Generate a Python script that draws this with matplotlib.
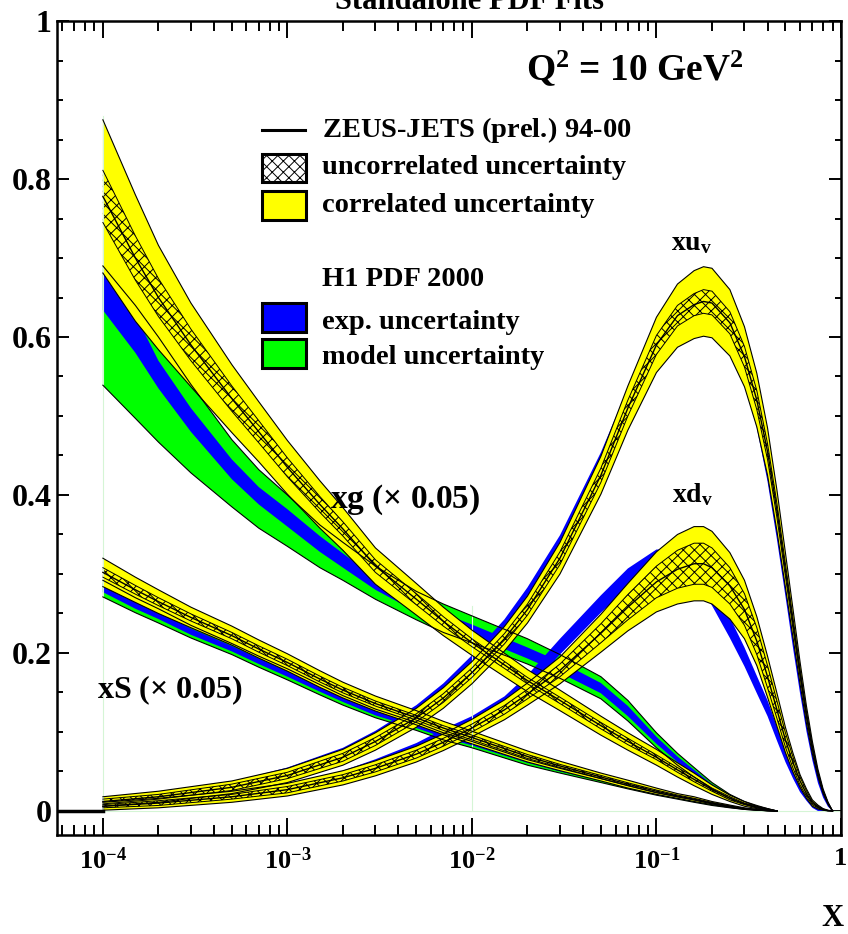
## Standalone PDF fits: ZEUS-JETS vs H1 PDF 2000 at Q2 = 10 GeV2
import matplotlib
matplotlib.use('Agg')
import matplotlib.pyplot as plt
from matplotlib.patches import Rectangle
from matplotlib.lines import Line2D
from matplotlib.ticker import FixedLocator, LogLocator, MultipleLocator

plt.rcParams['font.family'] = ['Liberation Serif', 'DejaVu Serif']
plt.rcParams['font.weight'] = 'bold'
plt.rcParams['mathtext.fontset'] = 'custom'
plt.rcParams['mathtext.rm'] = 'Liberation Serif'
plt.rcParams['mathtext.bf'] = 'Liberation Serif:bold'
plt.rcParams['mathtext.it'] = 'Liberation Serif:italic'
plt.rcParams['hatch.linewidth'] = 0.7

YELLOW = '#ffff00'
BLUE = '#0000ff'
GREEN = '#00ff00'

# x grids
x_sea = [1e-4, 1.5e-4, 2e-4, 3e-4, 5e-4, 7e-4, 1e-3, 1.5e-3, 2e-3, 3e-3, 5e-3, 7e-3, 1e-2,
         2e-2, 3e-2, 5e-2, 0.07, 0.1, 0.13, 0.16, 0.2, 0.25, 0.3, 0.35, 0.4, 0.45]
x_val = [1e-4, 2e-4, 5e-4, 1e-3, 2e-3, 3e-3, 5e-3, 7e-3, 1e-2, 1.5e-2, 2e-2, 3e-2, 5e-2,
         0.07, 0.1, 0.13, 0.16, 0.18, 0.2, 0.25, 0.3, 0.35, 0.4, 0.45, 0.5, 0.55, 0.6,
         0.65, 0.7, 0.75, 0.8, 0.85, 0.9]

# xg (x 0.05) -- ZEUS-JETS: central value, correlated and uncorrelated half widths
zeus_g = [0.778, 0.70, 0.65, 0.59, 0.522, 0.48, 0.435, 0.388, 0.357, 0.31, 0.268, 0.24, 0.213,
          0.165, 0.14, 0.108, 0.088, 0.068, 0.052, 0.04, 0.027, 0.016, 0.009, 0.005, 0.002, 0.0]
zeus_g_cor = [0.097, 0.08, 0.066, 0.053, 0.043, 0.038, 0.034, 0.03, 0.027, 0.023, 0.02, 0.018,
              0.016, 0.014, 0.013, 0.012, 0.011, 0.01, 0.009, 0.008, 0.006, 0.004, 0.003, 0.002,
              0.001, 0.0]
zeus_g_unc = [0.033, 0.028, 0.024, 0.02, 0.016, 0.014, 0.012, 0.01, 0.009, 0.008, 0.007, 0.006,
              0.005, 0.004, 0.004, 0.004, 0.004, 0.003, 0.003, 0.003, 0.002, 0.002, 0.001, 0.001,
              0.0005, 0.0]
# xg (x 0.05) -- H1 PDF 2000
h1_g_mod_lo = [0.539, 0.497, 0.467, 0.428, 0.385, 0.358, 0.335, 0.308, 0.292, 0.268, 0.242, 0.226,
               0.213, 0.186, 0.168, 0.142, 0.114, 0.08, 0.058, 0.043, 0.028, 0.016, 0.009, 0.004,
               0.002, 0.0]
h1_g_mod_hi = [0.69, 0.64, 0.6, 0.54, 0.47, 0.432, 0.4, 0.362, 0.34, 0.31, 0.278, 0.262,
               0.247, 0.218, 0.198, 0.17, 0.14, 0.099, 0.073, 0.055, 0.036, 0.021, 0.012, 0.006,
               0.003, 0.0]
h1_g_exp_lo = [0.634, 0.58, 0.535, 0.48, 0.42, 0.388, 0.36, 0.328, 0.308, 0.28, 0.252, 0.236,
               0.222, 0.193, 0.175, 0.149, 0.12, 0.085, 0.062, 0.046, 0.03, 0.017, 0.01, 0.005,
               0.002, 0.0]
h1_g_exp_hi = [0.682, 0.628, 0.57, 0.51, 0.445, 0.41, 0.382, 0.348, 0.326, 0.296, 0.267, 0.25,
               0.236, 0.207, 0.189, 0.162, 0.133, 0.094, 0.069, 0.052, 0.034, 0.02, 0.011, 0.006,
               0.003, 0.0]

# xS (x 0.05)
zeus_s = [0.302, 0.28, 0.265, 0.245, 0.222, 0.205, 0.188, 0.167, 0.153, 0.136, 0.118, 0.105,
          0.093, 0.069, 0.057, 0.043, 0.034, 0.025, 0.019, 0.015, 0.01, 0.006, 0.003, 0.0015,
          0.0005, 0.0]
zeus_s_cor = [0.018, 0.016, 0.015, 0.013, 0.012, 0.0115, 0.011, 0.0105, 0.01, 0.0095, 0.009,
              0.0085, 0.008, 0.007, 0.006, 0.005, 0.005, 0.004, 0.003, 0.003, 0.002, 0.0015,
              0.001, 0.0005, 0.0002, 0.0]
zeus_s_unc = [0.006, 0.0055, 0.005, 0.0045, 0.004, 0.004, 0.004, 0.0037, 0.0035, 0.0032, 0.003,
              0.003, 0.003, 0.0025, 0.002, 0.002, 0.0017, 0.0015, 0.0012, 0.001, 0.0008, 0.0005,
              0.0003, 0.0002, 0.0001, 0.0]
h1_s_mod_lo = [0.271, 0.251, 0.238, 0.219, 0.198, 0.182, 0.166, 0.147, 0.134, 0.118, 0.102, 0.09,
               0.08, 0.058, 0.048, 0.036, 0.028, 0.02, 0.015, 0.011, 0.007, 0.004, 0.002, 0.001,
               0.0003, 0.0]
h1_s_mod_hi = [0.292, 0.27, 0.256, 0.235, 0.212, 0.196, 0.18, 0.16, 0.146, 0.129, 0.112, 0.099,
               0.088, 0.065, 0.054, 0.041, 0.032, 0.023, 0.018, 0.014, 0.009, 0.005, 0.0025,
               0.0012, 0.0004, 0.0]
h1_s_exp_lo = [0.277, 0.256, 0.243, 0.223, 0.202, 0.186, 0.17, 0.151, 0.138, 0.121, 0.105, 0.093,
               0.083, 0.061, 0.05, 0.038, 0.03, 0.021, 0.016, 0.012, 0.008, 0.0045, 0.0022,
               0.0011, 0.0003, 0.0]
h1_s_exp_hi = [0.288, 0.266, 0.252, 0.231, 0.209, 0.193, 0.177, 0.157, 0.144, 0.127, 0.11, 0.097,
               0.087, 0.064, 0.053, 0.04, 0.031, 0.022, 0.017, 0.013, 0.0085, 0.0048, 0.0024,
               0.0012, 0.0004, 0.0]

# xu_v
zeus_u = [0.012, 0.018, 0.030, 0.045, 0.068, 0.088, 0.118, 0.143, 0.175, 0.218, 0.255, 0.32,
          0.425, 0.51, 0.59, 0.627, 0.641, 0.645, 0.643, 0.618, 0.575, 0.52, 0.455, 0.38, 0.305,
          0.237, 0.175, 0.122, 0.08, 0.048, 0.025, 0.01, 0.0]
zeus_u_cor = [0.006, 0.007, 0.008, 0.009, 0.010, 0.011, 0.012, 0.013, 0.014, 0.0155, 0.017, 0.02,
              0.024, 0.028, 0.035, 0.04, 0.043, 0.044, 0.044, 0.042, 0.038, 0.034, 0.03, 0.026,
              0.022, 0.018, 0.014, 0.011, 0.008, 0.005, 0.003, 0.0015, 0.0]
zeus_u_unc = [0.003, 0.003, 0.004, 0.004, 0.005, 0.005, 0.005, 0.0055, 0.006, 0.0065, 0.007, 0.008,
              0.009, 0.01, 0.012, 0.013, 0.014, 0.015, 0.015, 0.014, 0.013, 0.012, 0.01, 0.009,
              0.008, 0.0065, 0.005, 0.004, 0.003, 0.002, 0.001, 0.0005, 0.0]
h1_u = [0.013, 0.02, 0.033, 0.05, 0.075, 0.096, 0.128, 0.155, 0.19, 0.235, 0.275, 0.34,
        0.445, 0.525, 0.6, 0.632, 0.64, 0.64, 0.635, 0.603, 0.555, 0.497, 0.428, 0.354, 0.282,
        0.215, 0.157, 0.108, 0.07, 0.04, 0.02, 0.007, 0.0]
h1_u_exp = [0.003, 0.004, 0.004, 0.005, 0.005, 0.0055, 0.006, 0.0065, 0.007, 0.0075, 0.008, 0.009,
            0.009, 0.01, 0.011, 0.012, 0.012, 0.012, 0.012, 0.012, 0.012, 0.012, 0.011, 0.0105,
            0.01, 0.009, 0.008, 0.007, 0.006, 0.0045, 0.003, 0.0015, 0.0]

# xd_v
zeus_d = [0.006, 0.010, 0.018, 0.027, 0.042, 0.054, 0.072, 0.087, 0.105, 0.128, 0.148, 0.178,
          0.225, 0.258, 0.29, 0.306, 0.313, 0.313, 0.308, 0.285, 0.255, 0.215, 0.17, 0.128,
          0.09, 0.061, 0.038, 0.022, 0.01, 0.005, 0.002, 0.0005, 0.0]
zeus_d_cor = [0.005, 0.006, 0.007, 0.008, 0.009, 0.0095, 0.01, 0.0105, 0.011, 0.0125, 0.014, 0.017,
              0.024, 0.03, 0.038, 0.044, 0.047, 0.047, 0.046, 0.042, 0.037, 0.031, 0.026, 0.021,
              0.016, 0.012, 0.008, 0.006, 0.004, 0.0025, 0.001, 0.0005, 0.0]
zeus_d_unc = [0.002, 0.003, 0.003, 0.004, 0.004, 0.0045, 0.005, 0.005, 0.005, 0.0055, 0.006, 0.008,
              0.012, 0.016, 0.02, 0.024, 0.026, 0.026, 0.025, 0.023, 0.02, 0.017, 0.014, 0.011,
              0.009, 0.007, 0.005, 0.0035, 0.002, 0.0012, 0.0005, 0.0002, 0.0]
h1_d = [0.006, 0.01, 0.019, 0.029, 0.046, 0.06, 0.08, 0.097, 0.113, 0.137, 0.163, 0.208,
        0.262, 0.295, 0.318, 0.318, 0.305, 0.29, 0.273, 0.232, 0.195, 0.16, 0.13, 0.098,
        0.07, 0.048, 0.03, 0.018, 0.008, 0.003, 0.001, 0.0003, 0.0]
h1_d_exp = [0.003, 0.004, 0.004, 0.005, 0.005, 0.0055, 0.006, 0.0065, 0.007, 0.008, 0.009, 0.01,
            0.011, 0.012, 0.013, 0.013, 0.013, 0.013, 0.013, 0.013, 0.012, 0.011, 0.01, 0.009,
            0.008, 0.007, 0.006, 0.005, 0.004, 0.003, 0.001, 0.0005, 0.0]

x_ticks = [1e-4, 1e-3, 1e-2, 1e-1, 1]
x_tick_labels = [r'10$^{\mathbf{-4}}$', r'10$^{\mathbf{-3}}$', r'10$^{\mathbf{-2}}$',
                 r'10$^{\mathbf{-1}}$', '1']
y_ticks = [0, 0.2, 0.4, 0.6, 0.8, 1.0]
y_tick_labels = ['0', '0.2', '0.4', '0.6', '0.8', '1']


def shade(ax, x, lo, hi, color, edge=True):
    ax.fill_between(x, lo, hi, facecolor=color, edgecolor='none', lw=0)
    if edge:
        ax.plot(x, lo, color='black', lw=0.8)
        ax.plot(x, hi, color='black', lw=0.8)


def zeus(ax, x, c, cor, unc):
    lo = [a - b for a, b in zip(c, cor)]
    hi = [a + b for a, b in zip(c, cor)]
    shade(ax, x, lo, hi, YELLOW)
    ulo = [a - b for a, b in zip(c, unc)]
    uhi = [a + b for a, b in zip(c, unc)]
    ax.fill_between(x, ulo, uhi, facecolor='none', edgecolor='black', hatch='xxx', lw=0)
    ax.plot(x, ulo, color='black', lw=0.7)
    ax.plot(x, uhi, color='black', lw=0.7)
    ax.plot(x, c, color='black', lw=1.0)


fig = plt.figure(figsize=(8.48, 9.34), dpi=100)
ax = fig.add_axes([0.0672, 0.106, 0.9245, 0.8715])
ax.set_xscale('log')
ax.set_xlim(5.64e-5, 1)
ax.set_ylim(-0.0304, 1.0)

# faint frame lines of the fit range
ax.plot([1e-4, 1e-4], [0, 0.88], color='#d5f5d5', lw=0.8)
ax.plot([1e-2, 1e-2], [0, 0.26], color='#d5f5d5', lw=0.8)
ax.plot([1e-4, 1], [0, 0], color='#d5f5d5', lw=0.8)
ax.plot([5.64e-5, 1e-4], [0, 0], color='black', lw=2.5)

# H1 bands
shade(ax, x_sea, h1_g_mod_lo, h1_g_mod_hi, GREEN)
shade(ax, x_sea, h1_g_exp_lo, h1_g_exp_hi, BLUE, edge=False)
shade(ax, x_sea, h1_s_mod_lo, h1_s_mod_hi, GREEN)
shade(ax, x_sea, h1_s_exp_lo, h1_s_exp_hi, BLUE, edge=False)
shade(ax, x_val, [a - b for a, b in zip(h1_u, h1_u_exp)],
      [a + b for a, b in zip(h1_u, h1_u_exp)], BLUE, edge=False)
shade(ax, x_val, [a - b for a, b in zip(h1_d, h1_d_exp)],
      [a + b for a, b in zip(h1_d, h1_d_exp)], BLUE, edge=False)

# ZEUS-JETS bands
zeus(ax, x_sea, zeus_g, zeus_g_cor, zeus_g_unc)
zeus(ax, x_sea, zeus_s, zeus_s_cor, zeus_s_unc)
zeus(ax, x_val, zeus_u, zeus_u_cor, zeus_u_unc)
zeus(ax, x_val, zeus_d, zeus_d_cor, zeus_d_unc)

# axes, ticks
for sp in ax.spines.values():
    sp.set_linewidth(1.8)
ax.xaxis.set_major_locator(FixedLocator(x_ticks))
ax.xaxis.set_minor_locator(LogLocator(base=10, subs=range(2, 10), numticks=20))
ax.set_xticklabels(x_tick_labels)
ax.yaxis.set_major_locator(FixedLocator(y_ticks))
ax.yaxis.set_minor_locator(MultipleLocator(0.05))
ax.set_yticklabels(y_tick_labels)
ax.tick_params(which='both', direction='in', top=True, right=True, width=1.4)
ax.tick_params(axis='x', which='major', length=12, pad=9, labelsize=19)
ax.tick_params(axis='x', which='minor', length=7)
ax.tick_params(axis='y', which='major', length=8.6, pad=4, labelsize=23)
ax.tick_params(axis='y', which='minor', length=4)

# text
fig.text(0.554, 0.990, 'Standalone PDF Fits', ha='center', va='baseline', fontsize=22)
fig.text(0.982, 0.017, 'X', ha='center', va='center', fontsize=22)
ax.text(0.737, 0.942, r'Q$^{\mathbf{2}}$ = 10 GeV$^{\mathbf{2}}$', transform=ax.transAxes,
        ha='center', va='center', fontsize=27)
ax.text(0.348, 0.412, r'xg $(\times$ 0.05$)$', transform=ax.transAxes,
        ha='left', va='center', fontsize=24)
ax.text(0.051, 0.178, r'xS $(\times$ 0.05$)$', transform=ax.transAxes,
        ha='left', va='center', fontsize=23)
ax.text(0.81, 0.727, r'$\mathbf{xu}_{\mathbf{v}}$', transform=ax.transAxes,
        ha='center', va='center', fontsize=20)
ax.text(0.811, 0.418, r'$\mathbf{xd}_{\mathbf{v}}$', transform=ax.transAxes,
        ha='center', va='center', fontsize=20)

# legend, drawn by hand in axes coordinates
lx0, lx1, tx = 0.2615, 0.318, 0.338
ax.add_line(Line2D([lx0, 0.3163], [0.866, 0.866], color='black', lw=2.2,
                   transform=ax.transAxes))
ax.add_patch(Rectangle((lx0, 0.802), lx1 - lx0, 0.035, facecolor='white', edgecolor='black',
                       hatch='xxx', lw=2.2, transform=ax.transAxes))
ax.add_patch(Rectangle((lx0, 0.756), lx1 - lx0, 0.035, facecolor=YELLOW, edgecolor='black',
                       lw=2.2, transform=ax.transAxes))
ax.add_patch(Rectangle((lx0, 0.618), lx1 - lx0, 0.035, facecolor=BLUE, edgecolor='black',
                       lw=2.2, transform=ax.transAxes))
ax.add_patch(Rectangle((lx0, 0.574), lx1 - lx0, 0.035, facecolor=GREEN, edgecolor='black',
                       lw=2.2, transform=ax.transAxes))
ax.text(tx, 0.866, r'ZEUS-JETS $\mathrm{(prel.\!)}$ 94-00', transform=ax.transAxes,
        va='center', fontsize=20.5)
ax.text(tx, 0.820, 'uncorrelated uncertainty', transform=ax.transAxes, va='center', fontsize=20.5)
ax.text(tx, 0.773, 'correlated uncertainty', transform=ax.transAxes, va='center', fontsize=20.5)
ax.text(tx, 0.682, 'H1 PDF 2000', transform=ax.transAxes, va='center', fontsize=20.5)
ax.text(tx, 0.630, 'exp. uncertainty', transform=ax.transAxes, va='center', fontsize=20.5)
ax.text(tx, 0.587, 'model uncertainty', transform=ax.transAxes, va='center', fontsize=20.5)

fig.savefig('out.png', dpi=100)
